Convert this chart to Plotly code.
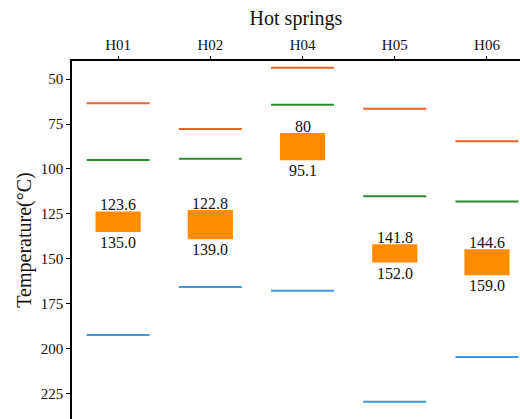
import plotly.graph_objects as go

springs = ["H01", "H02", "H04", "H05", "H06"]
box_top = [123.6, 122.8, 80.0, 141.8, 144.6]
box_bottom = [135.0, 139.0, 95.1, 152.0, 159.0]
top_labels = ["123.6", "122.8", "80", "141.8", "144.6"]
bottom_labels = ["135.0", "139.0", "95.1", "152.0", "159.0"]
red_line = [63.5, 77.8, 43.7, 66.5, 84.6]
green_line = [95.0, 94.3, 64.3, 115.2, 118.1]
blue_line = [192.2, 165.6, 167.6, 229.3, 204.4]

FONT = "Times New Roman"

fig = go.Figure()
fig.add_trace(go.Bar(
    x=springs, base=box_top,
    y=[b - t for t, b in zip(box_top, box_bottom)],
    width=0.49, marker=dict(color="#FF8C00", line=dict(width=0)),
    showlegend=False, hoverinfo="skip"))

for vals, col in [(red_line, "#E8622C"), (green_line, "#2A8C2A"), (blue_line, "#3D98E8")]:
    fig.add_trace(go.Scatter(
        x=springs, y=vals, mode="markers",
        marker=dict(symbol="line-ew", size=45, line=dict(width=2, color=col)),
        showlegend=False, hoverinfo="skip"))

lab_font = dict(family=FONT, size=16, color="#111")
for s, t, lab in zip(springs, box_top, top_labels):
    fig.add_annotation(x=s, y=t, text=lab, showarrow=False, yanchor="bottom",
                       xanchor="center", yshift=-4, font=lab_font)
for s, b, lab in zip(springs, box_bottom, bottom_labels):
    fig.add_annotation(x=s, y=b, text=lab, showarrow=False, yanchor="top",
                       xanchor="center", yshift=0, font=lab_font)

fig.update_layout(
    width=520, height=419,
    margin=dict(l=72, r=0, t=61, b=0),
    plot_bgcolor="white", paper_bgcolor="white",
    font=dict(family=FONT, size=15, color="#111"),
    xaxis=dict(side="top", range=[-0.5, 4.358], showline=True, linecolor="black",
               linewidth=1.5, ticks="outside", ticklen=3, tickcolor="black",
               tickfont=dict(family=FONT, size=15, color="#111"),
               showgrid=False, zeroline=False,
               title=dict(text="Hot springs", font=dict(family=FONT, size=20), standoff=6)),
    yaxis=dict(range=[238.9, 40], showline=True, linecolor="black", linewidth=1.5,
               ticks="outside", ticklen=4, tickcolor="black",
               tickfont=dict(family=FONT, size=15, color="#111"),
               tickvals=[50, 75, 100, 125, 150, 175, 200, 225],
               showgrid=False, zeroline=False,
               title=dict(text="Temperature(°C)", font=dict(family=FONT, size=20), standoff=4)),
)

fig.write_html("out.html")
